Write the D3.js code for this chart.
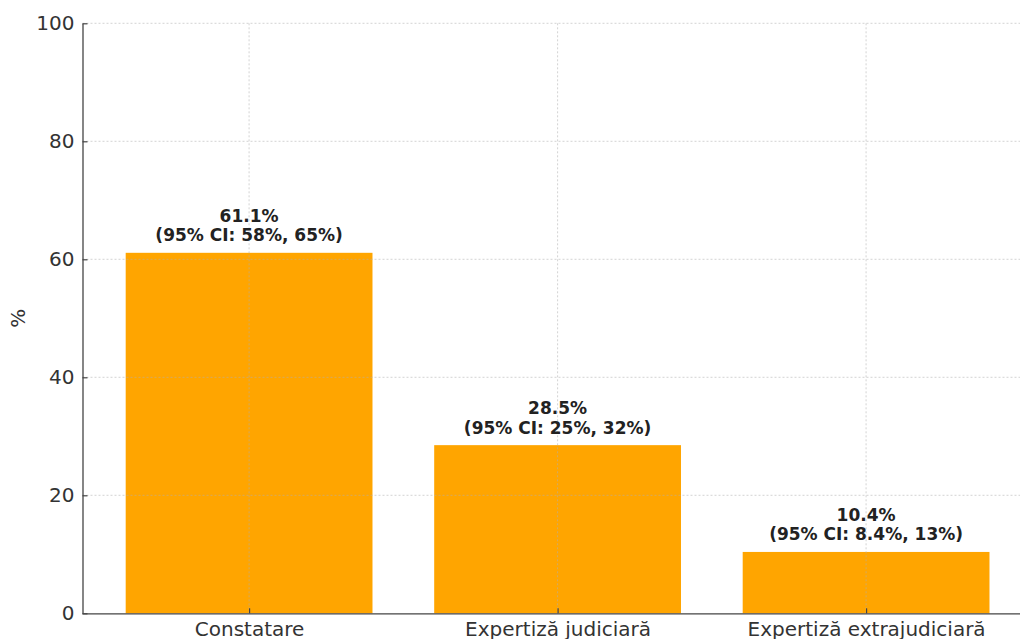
<!DOCTYPE html>
<html>
<head>
<meta charset="utf-8">
<script src="https://cdn.jsdelivr.net/npm/d3@7"></script>
<style>
  body { margin: 0; background: #fff; }
  svg { display: block; font-family: "DejaVu Sans", sans-serif; }
</style>
</head>
<body>
<svg id="chart" width="1020" height="639"></svg>
<script>
const categories = ["Constatare", "Expertiză judiciară", "Expertiză extrajudiciară"]
const percents = [61.1, 28.5, 10.4]
const ciLow = ["58%", "25%", "8.4%"]
const ciHigh = ["65%", "32%", "13%"]
const yTicks = [0, 20, 40, 60, 80, 100]

const dims = {
    width: 1020,
    height: 639,
    left: 82.5,
    top: 23.3,
    bottom: 613.3,
}

const svg = d3.select("#chart")

// scales
const xScale = d3.scaleLinear()
    .domain([-0.54, 2.54])
    .range([dims.left, dims.left + 3.08 * 308.5])

const yScale = d3.scaleLinear()
    .domain([0, 100])
    .range([dims.bottom, dims.top])

// bars
svg.append("g")
    .selectAll("rect")
    .data(percents)
    .join("rect")
    .attr("x", (d, i) => xScale(i - 0.4))
    .attr("width", (d, i) => xScale(i + 0.4) - xScale(i - 0.4))
    .attr("y", d => yScale(d))
    .attr("height", d => yScale(0) - yScale(d))
    .attr("fill", "#ffa500")

// grid (drawn over the bars, like the original)
const grid = svg.append("g")
    .attr("stroke", "#b0b0b0")
    .attr("stroke-opacity", 0.55)
    .attr("stroke-width", 1)
    .attr("stroke-dasharray", "2,2")

grid.selectAll(".hgrid")
    .data(yTicks.slice(1))
    .join("line")
    .attr("x1", dims.left)
    .attr("x2", dims.width)
    .attr("y1", d => yScale(d))
    .attr("y2", d => yScale(d))

grid.selectAll(".vgrid")
    .data(categories)
    .join("line")
    .attr("x1", (d, i) => xScale(i))
    .attr("x2", (d, i) => xScale(i))
    .attr("y1", dims.top)
    .attr("y2", dims.bottom)

// value labels
const labels = svg.append("g")
    .attr("font-size", 17)
    .attr("font-weight", "bold")
    .attr("fill", "#222")
    .attr("text-anchor", "middle")

labels.selectAll("text.val")
    .data(percents)
    .join("text")
    .attr("x", (d, i) => xScale(i))
    .attr("y", d => yScale(d) - 31)
    .text(d => d.toFixed(1) + "%")

labels.selectAll("text.ci")
    .data(percents)
    .join("text")
    .attr("x", (d, i) => xScale(i))
    .attr("y", d => yScale(d) - 11.5)
    .text((d, i) => `(95% CI: ${ciLow[i]}, ${ciHigh[i]})`)

// axes
const yAxis = svg.append("g")
    .attr("transform", `translate(${dims.left},0)`)
    .call(d3.axisLeft(yScale).tickValues(yTicks).tickSize(-5).tickPadding(8).tickSizeOuter(0))

const xAxis = svg.append("g")
    .attr("transform", `translate(0,${dims.bottom})`)
    .call(d3.axisBottom(xScale).tickValues([0, 1, 2]).tickFormat(i => categories[i])
        .tickSize(-5).tickPadding(9).tickSizeOuter(0))

xAxis.select(".domain").attr("d", `M${dims.left},0.5H${dims.width}`)

for (const ax of [xAxis, yAxis]) {
    ax.attr("font-family", "DejaVu Sans, sans-serif").attr("font-size", 20)
    ax.select(".domain").attr("stroke", "#444").attr("stroke-width", 1.3)
    ax.selectAll(".tick line").attr("stroke", "#444").attr("stroke-width", 1.2)
    ax.selectAll(".tick text").attr("fill", "#333")
}

// y label
svg.append("text")
    .attr("transform", `translate(25,${(dims.top + dims.bottom) / 2}) rotate(-90)`)
    .attr("text-anchor", "middle")
    .attr("font-size", 20)
    .attr("fill", "#333")
    .text("%")
</script>
</body>
</html>
